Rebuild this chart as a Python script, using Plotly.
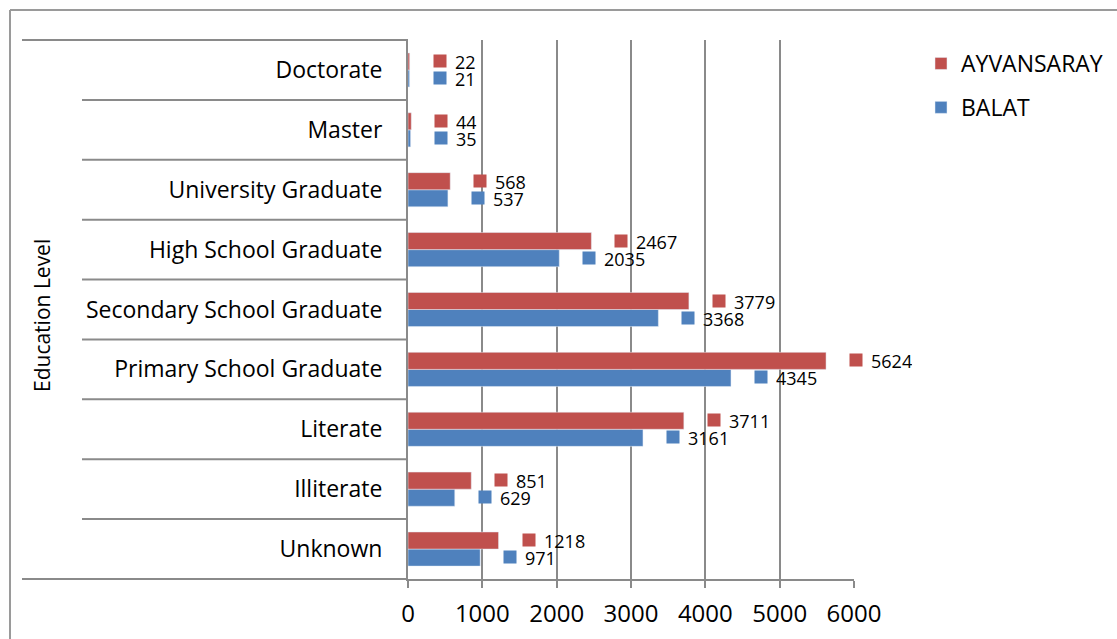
import plotly.graph_objects as go

# ---------------------------------------------------------------------
# Data (bottom -> top, as drawn)
# ---------------------------------------------------------------------
levels = ["Unknown", "Illiterate", "Literate", "Primary School Graduate",
          "Secondary School Graduate", "High School Graduate",
          "University Graduate", "Master", "Doctorate"]
ayvansaray = [1218, 851, 3711, 5624, 3779, 2467, 568, 44, 22]
balat = [971, 629, 3161, 4345, 3368, 2035, 537, 35, 21]
x_ticks = [0, 1000, 2000, 3000, 4000, 5000, 6000]

RED = "#C0504D"
BLUE = "#4F81BD"
GRID = "#8A8A8A"
FONT = "Open Sans"

# ---------------------------------------------------------------------
# Pixel helpers (plot area in page pixels)
# ---------------------------------------------------------------------
W, H = 1117, 639
PL, PR, PT, PB = 408, 854, 40, 579


def px_x(p):
    return (p - PL) / (PR - PL)


def px_y(p):
    return (PB - p) / (PB - PT)


fig = go.Figure()
# first trace sits lowest in each group -> BALAT first, AYVANSARAY on top
fig.add_bar(y=levels, x=balat, orientation="h", name="BALAT",
            marker_color=BLUE, legendgroup="b", legendrank=2)
fig.add_bar(y=levels, x=ayvansaray, orientation="h", name="AYVANSARAY",
            marker_color=RED, legendgroup="a", legendrank=1)

# data labels: coloured square + value
annotations = []
for values, color, shift in [(ayvansaray, RED, 8), (balat, BLUE, -9)]:
    for cat, v in zip(levels, values):
        annotations.append(dict(x=v, y=cat, xref="x", yref="y", text=" ",
                                showarrow=False, xanchor="left", xshift=23,
                                yshift=shift + 1, width=12, height=12,
                                bgcolor=color, borderpad=0,
                                font=dict(size=8)))
        annotations.append(dict(x=v, y=cat, xref="x", yref="y", text=str(v),
                                showarrow=False, xanchor="left", xshift=44,
                                yshift=shift, height=16, borderpad=0,
                                font=dict(family=FONT, size=18, color="black")))

annotations.append(dict(x=px_x(42), y=px_y(316), xref="paper", yref="paper",
                        xanchor="center", yanchor="middle",
                        text="Education Level", textangle=-90, showarrow=False,
                        font=dict(family=FONT, size=21, color="black")))

# row separators extending left of the axis
shapes = []
line = dict(color=GRID, width=2)
for i in range(len(levels) - 1):
    shapes.append(dict(type="line", xref="paper", yref="y", x0=px_x(82), x1=0,
                       y0=i + 0.5, y1=i + 0.5, line=line))
shapes.append(dict(type="line", xref="paper", yref="paper", x0=px_x(22), x1=0,
                   y0=1, y1=1, line=line))
shapes.append(dict(type="line", xref="paper", yref="paper", x0=px_x(22), x1=0,
                   y0=0, y1=0, line=line))
# outer frame
shapes.append(dict(type="line", xref="paper", yref="paper", x0=px_x(10), x1=px_x(10),
                   y0=px_y(10), y1=px_y(H + 5), line=dict(color="#9A9A9A", width=2)))
shapes.append(dict(type="line", xref="paper", yref="paper", x0=px_x(10), x1=px_x(W + 5),
                   y0=px_y(10), y1=px_y(10), line=dict(color="#9A9A9A", width=2)))

fig.update_layout(
    width=W, height=H,
    margin=dict(l=PL, r=W - PR, t=PT, b=H - PB, autoexpand=False),
    paper_bgcolor="white", plot_bgcolor="white",
    barmode="group", bargap=0.43, bargroupgap=0,
    font=dict(family=FONT, color="black"),
    legend=dict(x=px_x(921), y=px_y(42), xanchor="left", yanchor="top",
                traceorder="grouped", tracegroupgap=11,
                font=dict(family=FONT, size=23, color="black")),
    annotations=annotations,
    shapes=shapes,
)
fig.update_xaxes(range=[0, 6000], tickvals=x_ticks, showgrid=True,
                 gridcolor=GRID, gridwidth=2, zeroline=False,
                 showline=True, linecolor=GRID, linewidth=2,
                 ticks="outside", ticklen=7, tickcolor=GRID, tickwidth=2,
                 ticklabelstandoff=5,
                 tickfont=dict(family=FONT, size=24, color="black"))
fig.update_yaxes(showgrid=False, zeroline=False, showline=True,
                 linecolor=GRID, linewidth=2, ticks="",
                 ticklabelstandoff=19,
                 tickfont=dict(family=FONT, size=23, color="black"))

# drop the default page margin so the figure sits at the window's corner
fig.write_html("out.html", config={"displayModeBar": False},
               post_script="document.body.style.margin='0';"
                           "document.body.style.overflow='hidden';")
